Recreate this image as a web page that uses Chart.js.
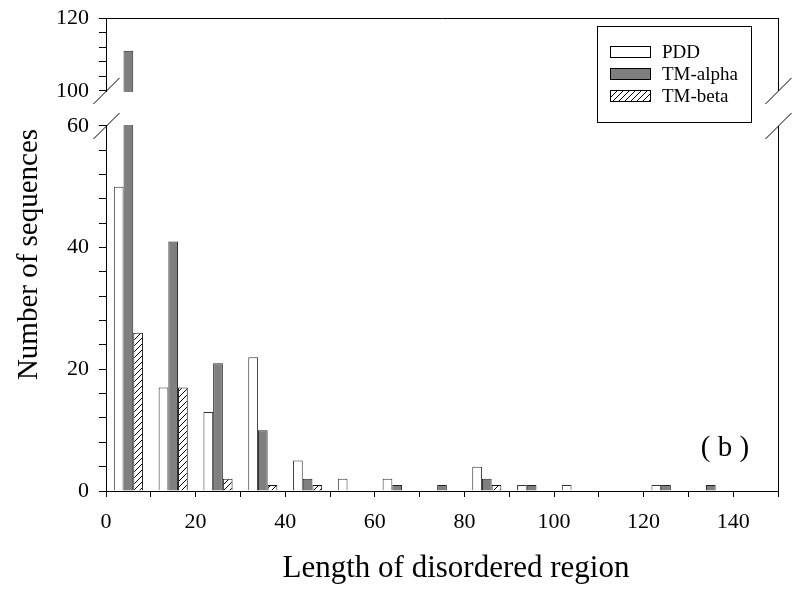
<!DOCTYPE html>
<html>
<head>
<meta charset="utf-8">
<title>Length of disordered region</title>
<script src="https://cdn.jsdelivr.net/npm/chart.js@4.4.1/dist/chart.umd.min.js"></script>
<style>
  body { margin: 0; background: #fff; }
  canvas { display: block; }
</style>
</head>
<body>
<canvas id="lengthChart" width="800" height="593"></canvas>
<script>
// bins of 10 residues, bars drawn at bin centres
var binCenters = [5, 15, 25, 35, 45, 55, 65, 75, 85, 95, 105, 115, 125, 135, 145];
var pddCounts = [50, 17, 13, 22, 5, 2, 2, 0, 4, 1, 1, 0, 1, 0, 0];
var alphaCounts = [111, 41, 21, 10, 2, 0, 1, 1, 2, 1, 0, 0, 1, 1, 0];
var betaCounts = [26, 17, 2, 1, 1, 0, 0, 0, 1, 0, 0, 0, 0, 0, 0];

var yTickValues = [0, 4, 8, 12, 16, 20, 24, 28, 32, 36, 40, 44, 48, 52, 56, 60,
                   100, 104, 108, 112, 116, 120];
var yTickLabels = [0, 20, 40, 60, 100, 120];
var xTickLabels = [0, 20, 40, 60, 80, 100, 120, 140];

// broken y axis: 0-60 below, 100-120 above
var lowTop = 60, highBottom = 100;
var lowPart = 0.7717, gapPart = 0.074, highPart = 0.1543;

class BrokenScale extends Chart.LinearScale {
    getPixelForValue(value) {
        if (value === null || value === undefined || isNaN(value)) return NaN;
        var dec;
        if (value <= lowTop) {
            dec = value / lowTop * lowPart;
        } else if (value >= highBottom) {
            dec = lowPart + gapPart + (value - highBottom) / (this.max - highBottom) * highPart;
        } else {
            dec = lowPart + (value - lowTop) / (highBottom - lowTop) * gapPart;
        }
        return this.getPixelForDecimal(dec);
    }
    getValueForPixel(pixel) {
        var dec = this.getDecimalForPixel(pixel);
        if (dec <= lowPart) return dec / lowPart * lowTop;
        if (dec >= lowPart + gapPart) return highBottom + (dec - lowPart - gapPart) / highPart * (this.max - highBottom);
        return lowTop + (dec - lowPart) / gapPart * (highBottom - lowTop);
    }
}
BrokenScale.id = 'broken';
Chart.register(BrokenScale);

function toPoints(values) {
    return binCenters.map(function(x, i) { return { x: x, y: values[i] }; });
}

var canvas = document.getElementById('lengthChart');
var ctx = canvas.getContext('2d');

var tile = document.createElement('canvas');
tile.width = 6; tile.height = 6;
var tctx = tile.getContext('2d');
tctx.fillStyle = '#fff';
tctx.fillRect(0, 0, 6, 6);
tctx.strokeStyle = '#000';
tctx.lineWidth = 1;
tctx.beginPath();
tctx.moveTo(0, 6); tctx.lineTo(6, 0);
tctx.moveTo(-1, 1); tctx.lineTo(1, -1);
tctx.moveTo(5, 7); tctx.lineTo(7, 5);
tctx.stroke();
var hatch = ctx.createPattern(tile, 'repeat');

var serif = 'Liberation Serif';

var brokenAxis = {
    id: 'brokenAxis',
    afterDatasetsDraw: function(chart) {
        var c = chart.ctx, area = chart.chartArea, y = chart.scales.y;
        var gapTop = y.getPixelForValue(highBottom);
        var gapBottom = y.getPixelForValue(lowTop);
        var left = Math.round(area.left) + 0.5, right = Math.round(area.right) + 0.5;
        c.save();
        c.fillStyle = '#fff';
        c.fillRect(area.left - 3, gapTop + 1, area.right - area.left + 6, gapBottom - gapTop - 2);
        c.strokeStyle = '#000';
        c.lineWidth = 1;
        c.beginPath();
        c.moveTo(left, Math.round(area.top) + 0.5);
        c.lineTo(right, Math.round(area.top) + 0.5);
        c.moveTo(right, area.top);
        c.lineTo(right, gapTop);
        c.moveTo(right, gapBottom);
        c.lineTo(right, area.bottom);
        [left, right].forEach(function(x) {
            [gapTop, gapBottom].forEach(function(yy) {
                c.moveTo(x - 13, yy + 13);
                c.lineTo(x + 13, yy - 13);
            });
        });
        c.stroke();
        c.restore();
    },
    afterDraw: function(chart) {
        var c = chart.ctx, area = chart.chartArea;
        c.save();
        // legend box
        var bx = area.right - 181, by = area.top + 8;
        c.strokeStyle = '#000';
        c.lineWidth = 1;
        c.strokeRect(bx + 0.5, by + 0.5, 154, 96);
        c.font = '19px "' + serif + '"';
        c.textBaseline = 'middle';
        c.fillStyle = '#000';
        chart.data.datasets.forEach(function(ds, i) {
            var ry = by + 26 + i * 22;
            c.fillStyle = ds.backgroundColor;
            c.fillRect(bx + 13, ry - 6, 41, 12);
            c.strokeStyle = '#000';
            c.strokeRect(bx + 13.5, ry - 5.5, 40, 11);
            c.fillStyle = '#000';
            c.fillText(ds.label, bx + 65, ry + 1);
        });
        // panel letter
        c.font = '29px "' + serif + '"';
        c.textAlign = 'center';
        c.fillText('( b )', area.right - 53, area.bottom - 43);
        // x axis title
        c.font = '31px "' + serif + '"';
        c.fillText('Length of disordered region', 456, 569);
        c.restore();
    }
};

new Chart(ctx, {
    type: 'bar',
    data: {
        datasets: [{
            label: 'PDD',
            data: toPoints(pddCounts),
            backgroundColor: '#ffffff',
            borderColor: '#333333',
            borderWidth: 1
        }, {
            label: 'TM-alpha',
            data: toPoints(alphaCounts),
            backgroundColor: '#7f7f7f',
            borderColor: '#222222',
            borderWidth: 1
        }, {
            label: 'TM-beta',
            data: toPoints(betaCounts),
            backgroundColor: hatch,
            borderColor: '#111111',
            borderWidth: 1
        }]
    },
    options: {
        responsive: false,
        animation: false,
        categoryPercentage: 0.65,
        barPercentage: 1.0,
        layout: { padding: { top: 18, right: 22, left: 0, bottom: 0 } },
        plugins: {
            legend: { display: false },
            tooltip: { enabled: false }
        },
        scales: {
            x: {
                type: 'linear',
                min: 0,
                max: 150,
                offset: false,
                grid: { offset: false, drawOnChartArea: false, color: '#000', tickLength: 6 },
                border: { color: '#000', width: 1 },
                ticks: {
                    stepSize: 10,
                    autoSkip: false,
                    maxRotation: 0,
                    padding: 12,
                    color: '#000',
                    font: { family: serif, size: 22 },
                    callback: function(v) { return xTickLabels.indexOf(v) >= 0 ? String(v) : ''; }
                },
                afterFit: function(scale) {
                    scale.height = 102;
                    scale.paddingLeft = 0;
                    scale.paddingRight = 0;
                }
            },
            y: {
                type: 'broken',
                min: 0,
                max: 120,
                grid: { drawOnChartArea: false, color: '#000', tickLength: 7 },
                border: { color: '#000', width: 1 },
                ticks: {
                    autoSkip: false,
                    padding: 10,
                    color: '#000',
                    font: { family: serif, size: 22 },
                    callback: function(v) { return yTickLabels.indexOf(v) >= 0 ? String(v) : ''; }
                },
                afterBuildTicks: function(scale) {
                    scale.ticks = yTickValues.map(function(v) { return { value: v }; });
                },
                title: {
                    display: true,
                    text: 'Number of sequences',
                    color: '#000',
                    font: { family: serif, size: 29 },
                    padding: { top: 12 }
                },
                afterFit: function(scale) {
                    scale.width = 106;
                    scale.paddingTop = 0;
                    scale.paddingBottom = 0;
                }
            }
        }
    },
    plugins: [brokenAxis]
});
</script>
</body>
</html>
